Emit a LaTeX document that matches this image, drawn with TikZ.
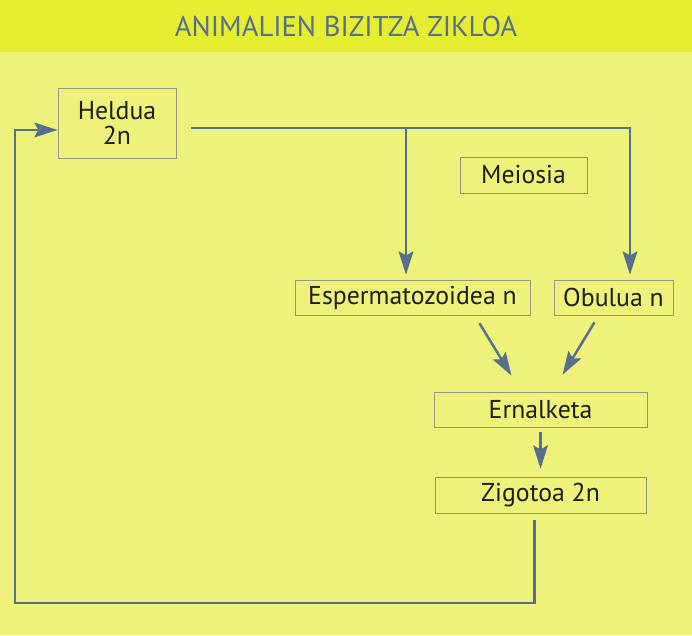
\documentclass[tikz,border=0pt]{standalone}
\usepackage{fontspec}
\setmainfont{PT Sans}
\usetikzlibrary{arrows.meta,positioning}
\definecolor{barcol}{RGB}{230,236,48}
\definecolor{bgcol}{RGB}{238,241,122}
\definecolor{linecol}{RGB}{84,112,140}
\definecolor{edgecol}{RGB}{150,150,128}
\definecolor{inkcol}{RGB}{30,30,26}
\begin{document}
\begin{tikzpicture}[x=0.03cm,y=-0.03cm,node distance=2cm,on grid,
    box/.style={draw=edgecol,line width=0.5pt,text=inkcol,inner sep=0pt,font=\fontsize{22}{21}\selectfont},
    flow/.style={draw=linecol,line width=2.1pt,-{Stealth[length=0.7cm,width=0.44cm,inset=0.12cm]}}]
  \fill[bgcol] (0,0) rectangle (692,635);
  \fill[barcol] (0,0) rectangle (692,52);
  \useasboundingbox (0,0) rectangle (692,635);
  \node[text=linecol,font=\fontsize{24.4}{26}\selectfont] (title) at (346,26) {ANIMALIEN BIZITZA ZIKLOA};
  \node[box,minimum width=3.54cm,minimum height=2.1cm,align=center] (heldua) at (117,123) {Heldua\\2n};
  \node[box,minimum width=7.05cm,minimum height=1.05cm] [below right=5.235cm and 8.865cm of heldua] (esperma) {Espermatozoidea n};
  \node[box,minimum width=3.57cm,minimum height=1.05cm] [right=6.03cm of esperma] (obulua) {Obulua n};
  \node[box,minimum width=3.81cm,minimum height=1.08cm] [above right=3.675cm and 3.33cm of esperma] (meiosia) {Meiosia};
  \node[box,minimum width=6.39cm,minimum height=1.05cm] [below right=3.36cm and 3.84cm of esperma] (ernalketa) {Ernalketa};
  \node[box,minimum width=6.33cm,minimum height=1.08cm] [below=2.565cm of ernalketa] (zigotoa) {Zigotoa 2n};
  \coordinate (hsplit) at (406,128);
  \coordinate (hright) at (630,128);
  \coordinate (back) at (15,603);
  \draw[flow,shorten >=0.15cm] ([shift={(15,5)}]heldua.east) -- (hright) -- (hright |- obulua.north);
  \draw[flow,shorten >=0.15cm] (hsplit) -- (hsplit |- esperma.north);
  \draw[flow] ([shift={(67,8)}]esperma.south) -- ([shift={(-29,-16)}]ernalketa.north);
  \draw[flow] ([shift={(-19,7)}]obulua.south) -- ([shift={(22,-17)}]ernalketa.north);
  \draw[flow,shorten <=0.15cm,shorten >=0.24cm] (ernalketa) -- (zigotoa);
  \draw[flow] ([shift={(-6,7)}]zigotoa.south) |- (back) |- ([yshift=-0.21cm]heldua.west);
\end{tikzpicture}
\end{document}
